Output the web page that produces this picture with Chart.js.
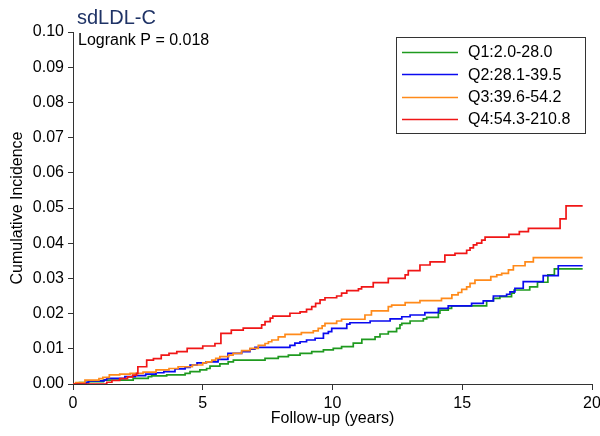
<!DOCTYPE html>
<html>
<head>
<meta charset="utf-8">
<script src="https://cdn.jsdelivr.net/npm/chart.js@4.4.1/dist/chart.umd.min.js"></script>
<style>
  html, body { margin: 0; padding: 0; background: #fff; }
  #wrap { width: 600px; height: 436px; }
</style>
</head>
<body>
<div id="wrap"><canvas id="c" width="600" height="436"></canvas></div>
<script>
// ---- Data ----
const chartTitle = "sdLDL-C";
const pValueText = "Logrank P = 0.018";
const xAxisTitle = "Follow-up (years)";
const yAxisTitle = "Cumulative Incidence";
const xTicks = [0, 5, 10, 15, 20];
const yTicks = [0, 0.01, 0.02, 0.03, 0.04, 0.05, 0.06, 0.07, 0.08, 0.09, 0.10];
const seriesLabels = ["Q1:2.0-28.0", "Q2:28.1-39.5", "Q3:39.6-54.2", "Q4:54.3-210.8"];

const q1Times  = [0, 0.25, 0.59, 1.17, 2.32, 2.9, 3.03, 3.61, 4.32, 4.51, 4.89, 5.15, 5.28, 5.66, 5.98, 6.18, 7.4, 7.91, 8.3, 8.75, 9.2, 9.65, 10.03, 10.35, 10.8, 11.13, 11.64, 11.83, 12.15, 12.47, 12.6, 12.67, 12.99, 13.5, 13.63, 14.08, 14.14, 14.46, 14.59, 15.94, 16.2, 16.45, 16.9, 17.0, 17.6, 17.9, 18.3, 18.55, 19.64];
const q1Values = [0, 0.0004, 0.0007, 0.0011, 0.0016, 0.0021, 0.0023, 0.0026, 0.003, 0.0035, 0.004, 0.0044, 0.0051, 0.0057, 0.0063, 0.0068, 0.0073, 0.0078, 0.0082, 0.0087, 0.0092, 0.0097, 0.0101, 0.0106, 0.0116, 0.0127, 0.0134, 0.0142, 0.0149, 0.0158, 0.0168, 0.0172, 0.0179, 0.0185, 0.0189, 0.0201, 0.021, 0.0215, 0.0222, 0.0236, 0.0243, 0.0248, 0.0258, 0.0267, 0.0276, 0.0289, 0.031, 0.0327, 0.0327];

const q2Times  = [0, 0.5, 0.6, 1.2, 1.3, 2.0, 2.4, 2.8, 3.2, 3.5, 3.93, 4.32, 4.51, 4.78, 5.13, 5.59, 5.97, 6.5, 6.82, 7.01, 8.36, 8.55, 8.75, 9.0, 9.33, 9.65, 9.84, 9.97, 10.55, 10.67, 11.45, 12.22, 12.67, 12.99, 13.56, 14.08, 14.46, 15.36, 15.81, 16.2, 16.71, 16.84, 17.03, 17.35, 18.12, 18.7, 19.64];
const q2Values = [0, 0.0005, 0.0009, 0.0012, 0.0016, 0.0021, 0.0024, 0.0028, 0.0032, 0.0035, 0.0043, 0.0047, 0.0054, 0.006, 0.0063, 0.007, 0.0087, 0.0092, 0.0099, 0.0104, 0.011, 0.0116, 0.012, 0.0125, 0.013, 0.0144, 0.0149, 0.0158, 0.017, 0.0174, 0.0179, 0.0185, 0.0191, 0.0196, 0.0203, 0.0215, 0.0222, 0.0229, 0.0236, 0.025, 0.0255, 0.0262, 0.0272, 0.0291, 0.0308, 0.0336, 0.0336];

const q3Times  = [0, 0.1, 0.46, 1.0, 1.15, 1.4, 1.8, 2.2, 2.7, 3.2, 3.7, 4.05, 4.6, 5.0, 5.15, 5.35, 5.5, 5.66, 6.0, 6.17, 6.5, 6.82, 7.14, 7.4, 7.53, 7.66, 7.91, 8.17, 8.8, 9.26, 9.45, 9.6, 9.71, 10.16, 10.35, 11.25, 11.5, 12.15, 12.28, 12.8, 13.37, 14.2, 14.6, 14.84, 14.98, 15.17, 15.3, 15.49, 16.1, 16.33, 16.52, 16.78, 16.97, 17.42, 17.74, 19.64];
const q3Values = [0, 0.0004, 0.0011, 0.0015, 0.0019, 0.0026, 0.0028, 0.003, 0.0034, 0.004, 0.0044, 0.0049, 0.0054, 0.006, 0.0063, 0.0068, 0.0073, 0.0078, 0.0082, 0.0087, 0.0095, 0.0101, 0.011, 0.0115, 0.012, 0.0125, 0.0134, 0.0141, 0.0146, 0.0151, 0.0158, 0.0165, 0.0172, 0.0179, 0.0184, 0.0196, 0.0208, 0.022, 0.0224, 0.0231, 0.0237, 0.0243, 0.0253, 0.026, 0.0269, 0.0276, 0.0286, 0.0295, 0.0305, 0.031, 0.0314, 0.0324, 0.0336, 0.0347, 0.0359, 0.0359];

const q4Times  = [0, 1.3, 1.5, 1.8, 2.1, 2.3, 2.45, 2.5, 2.84, 3.1, 3.4, 3.7, 4.0, 4.4, 5.0, 5.47, 5.7, 6.1, 6.56, 7.27, 7.4, 7.6, 7.7, 8.36, 8.75, 9.0, 9.2, 9.35, 9.52, 9.71, 10.16, 10.35, 10.55, 11.0, 11.12, 11.57, 12.15, 12.8, 12.92, 13.37, 13.76, 14.33, 14.72, 15.17, 15.3, 15.43, 15.56, 15.75, 15.88, 16.8, 17.2, 17.55, 18.77, 19.0, 19.64];
const q4Values = [0, 0.0005, 0.001, 0.0015, 0.002, 0.0025, 0.003, 0.0049, 0.0068, 0.0072, 0.0082, 0.0087, 0.0092, 0.0101, 0.0108, 0.0115, 0.0144, 0.0153, 0.0159, 0.0168, 0.0177, 0.0187, 0.0193, 0.0201, 0.0205, 0.0212, 0.022, 0.0229, 0.0239, 0.0245, 0.025, 0.0258, 0.0265, 0.027, 0.0276, 0.0288, 0.03, 0.031, 0.0322, 0.0338, 0.0347, 0.0366, 0.0371, 0.038, 0.0387, 0.0395, 0.04, 0.0409, 0.0417, 0.0425, 0.0433, 0.0442, 0.0469, 0.0506, 0.0506];

const seriesColors = ["#1f9a1f", "#0a0af0", "#ff8a1a", "#f01616"];

// ---- Build ----
const FONT = "'Liberation Sans', Arial, sans-serif";
const toPoints = (t, v) => t.map((x, i) => ({ x: x, y: v[i] }));
const allTimes = [q1Times, q2Times, q3Times, q4Times];
const allValues = [q1Values, q2Values, q3Values, q4Values];

const datasets = seriesLabels.map((lab, i) => ({
  label: lab,
  data: toPoints(allTimes[i], allValues[i]),
  borderColor: seriesColors[i],
  backgroundColor: seriesColors[i],
  borderWidth: 1.7,
  pointRadius: 0,
  stepped: true,
  fill: false,
  order: 4 - i
}));

const overlayPlugin = {
  id: 'overlay',
  afterDraw(chart) {
    const ctx = chart.ctx;
    const area = chart.chartArea;
    ctx.save();
    ctx.textAlign = 'left';
    ctx.textBaseline = 'alphabetic';
    ctx.fillStyle = '#1f3366';
    ctx.font = "20px " + FONT;
    ctx.fillText(chartTitle, area.left + 4, 24);
    ctx.fillStyle = '#000';
    ctx.font = "16px " + FONT;
    ctx.fillText(pValueText, area.left + 5, 45);
    const bx = 396.5, by = 37.5, bw = 189, bh = 96;
    ctx.strokeStyle = '#333';
    ctx.lineWidth = 1;
    ctx.fillStyle = '#fff';
    ctx.fillRect(bx, by, bw, bh);
    ctx.strokeRect(bx, by, bw, bh);
    ctx.font = "16px " + FONT;
    ctx.textBaseline = 'middle';
    chart.data.datasets.forEach((ds, i) => {
      const y = 52 + i * 22.3;
      ctx.strokeStyle = ds.borderColor;
      ctx.lineWidth = 1.7;
      ctx.beginPath();
      ctx.moveTo(402, Math.round(y) + 0.5);
      ctx.lineTo(458, Math.round(y) + 0.5);
      ctx.stroke();
      ctx.fillStyle = '#000';
      ctx.fillText(ds.label, 468, y + 1);
    });
    ctx.restore();
  }
};

new Chart(document.getElementById('c'), {
  type: 'line',
  data: { datasets: datasets },
  options: {
    responsive: false,
    animation: false,
    devicePixelRatio: 1,
    layout: { padding: { top: 32, right: 8, bottom: 0, left: 0 } },
    plugins: {
      legend: { display: false },
      tooltip: { enabled: false },
      title: { display: false }
    },
    scales: {
      x: {
        type: 'linear',
        min: 0, max: 20,
        afterBuildTicks: (s) => { s.ticks = xTicks.map(v => ({ value: v })); },
        afterFit: (s) => { s.height = 52; s.paddingLeft = 0; s.paddingRight = 0; },
        ticks: {
          color: '#000',
          font: { family: FONT, size: 16 },
          padding: 4,
          maxRotation: 0,
          autoSkip: false,
          callback: (v) => String(v)
        },
        grid: { display: true, drawOnChartArea: false, drawTicks: true, tickLength: 6, color: '#333' },
        border: { display: true, color: '#333', width: 1 },
        title: { display: true, text: xAxisTitle, color: '#000', font: { family: FONT, size: 16 }, padding: { top: 0, bottom: 8 } }
      },
      y: {
        type: 'linear',
        min: 0, max: 0.1,
        afterBuildTicks: (s) => { s.ticks = yTicks.map(v => ({ value: v })); },
        afterFit: (s) => { s.width = 73; s.paddingTop = 0; s.paddingBottom = 0; },
        ticks: {
          color: '#000',
          font: { family: FONT, size: 16 },
          padding: 4,
          autoSkip: false,
          callback: (v) => Number(v).toFixed(2)
        },
        grid: { display: true, drawOnChartArea: false, drawTicks: true, tickLength: 5, color: '#333' },
        border: { display: true, color: '#333', width: 1 },
        title: { display: true, text: yAxisTitle, color: '#000', font: { family: FONT, size: 16 }, padding: { top: 8, bottom: 0 } }
      }
    }
  },
  plugins: [overlayPlugin]
});
</script>
</body>
</html>
